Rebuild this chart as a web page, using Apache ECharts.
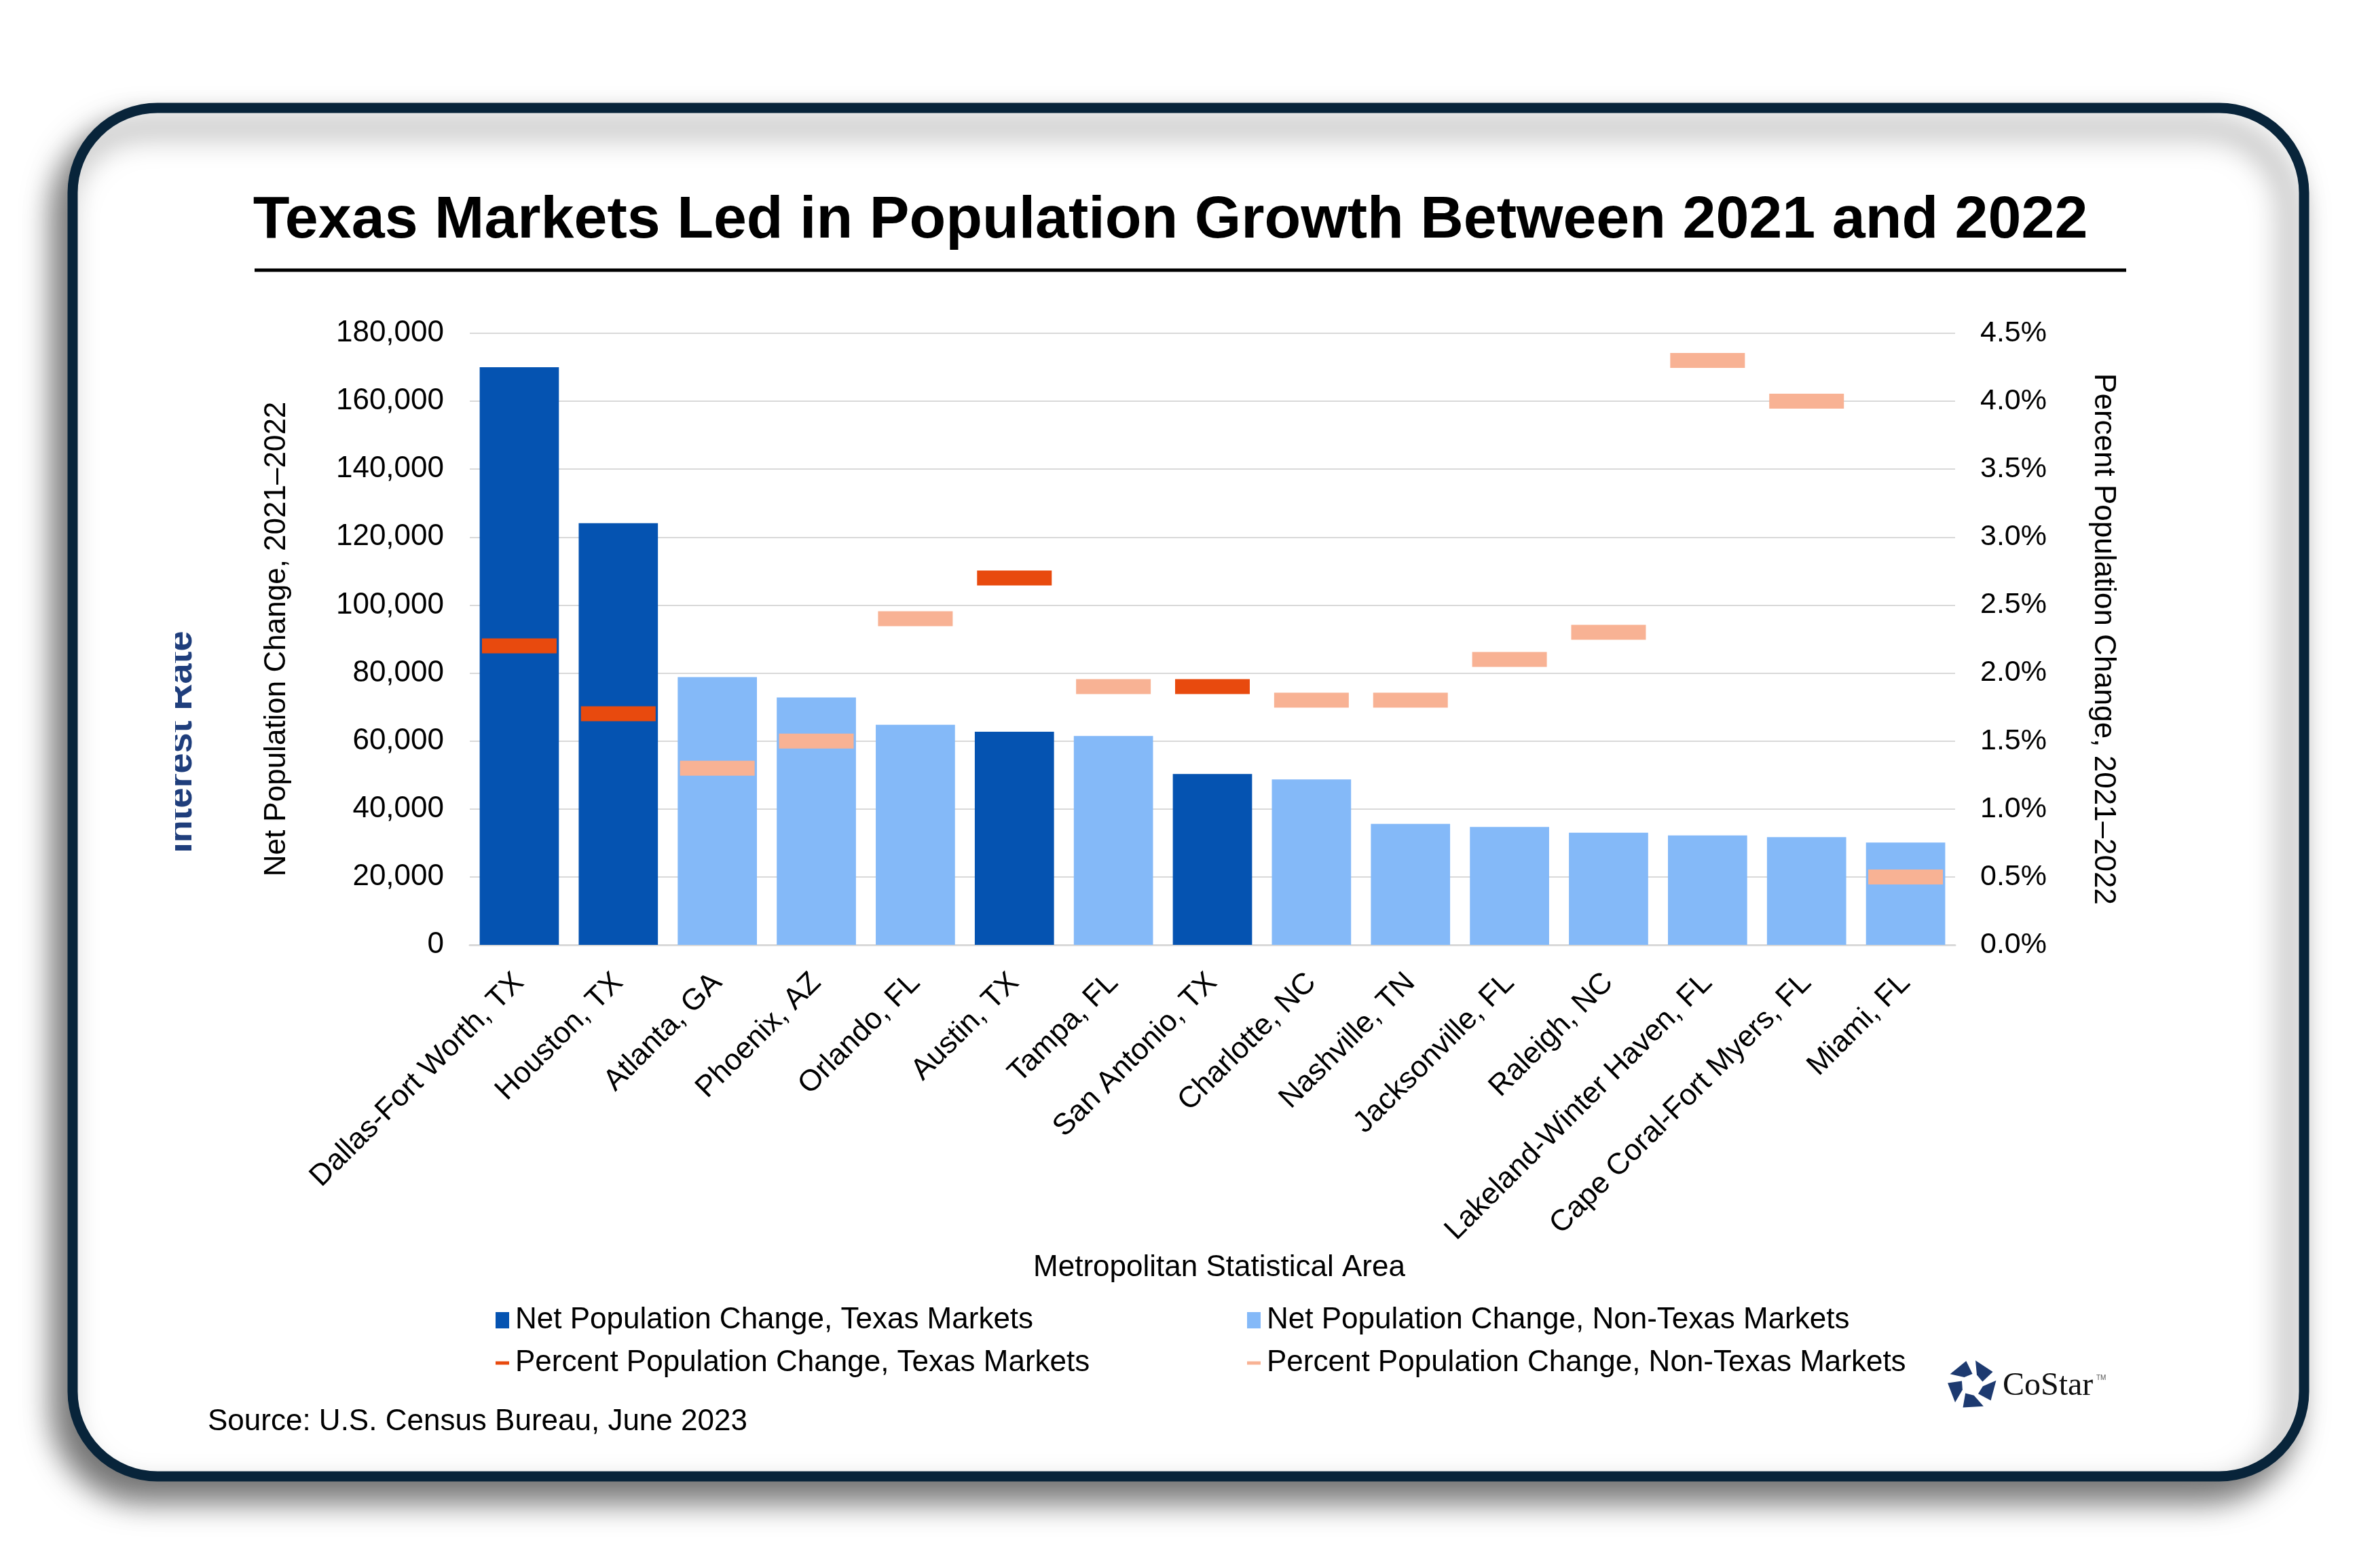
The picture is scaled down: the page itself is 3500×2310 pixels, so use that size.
<!DOCTYPE html>
<html>
<head>
<meta charset="utf-8">
<title>Texas Markets Led in Population Growth Between 2021 and 2022</title>
<script src="https://cdn.jsdelivr.net/npm/echarts@6/dist/echarts.min.js"></script>
<style>
  html, body { margin: 0; padding: 0; background: #ffffff; }
  #chart { width: 3500px; height: 2310px; }
</style>
</head>
<body>
<div id="chart"></div>
<script>
// Datos (cambio de población 2021–2022 por área metropolitana)
const categories = [
  "Dallas-Fort Worth, TX", "Houston, TX", "Atlanta, GA", "Phoenix, AZ", "Orlando, FL",
  "Austin, TX", "Tampa, FL", "San Antonio, TX", "Charlotte, NC", "Nashville, TN",
  "Jacksonville, FL", "Raleigh, NC", "Lakeland-Winter Haven, FL", "Cape Coral-Fort Myers, FL", "Miami, FL"
];
const netChange = [170000, 124100, 78800, 72800, 64800, 62750, 61500, 50300, 48700, 35600, 34700, 33000, 32200, 31700, 30100];
const pctChange = [2.2, 1.7, 1.3, 1.5, 2.4, 2.7, 1.9, 1.9, 1.8, 1.8, 2.1, 2.3, 4.3, 4.0, 0.5];
const isTexas = [true, true, false, false, false, true, false, true, false, false, false, false, false, false, false];

// Escalas de los ejes
const netMax = 180000, netStep = 20000;
const pctMax = 4.5, pctStep = 0.5;

const seriesNames = [
  "Net Population Change, Texas Markets",
  "Net Population Change, Non-Texas Markets",
  "Percent Population Change, Texas Markets",
  "Percent Population Change, Non-Texas Markets"
];

const FONT = '"Liberation Sans", Arial, sans-serif';
const colors = {
  texasBar: "#0553B1",
  otherBar: "#84B9F8",
  texasPct: "#E84A0E",
  otherPct: "#F8B294",
  grid: "#D9D9D9",
  frame: "#08243A"
};

// Separar los valores en Texas / no Texas (cada uno en su propia serie)
const pick = (arr, texas) => arr.map((v, i) => (isTexas[i] === texas ? v : "-"));

// Leyenda: una por elemento para poder colocar las dos columnas
function legendItem(name, left, top, w, h) {
  return {
    data: [{ name: name, icon: "rect" }],
    left: left, top: top,
    itemWidth: w, itemHeight: h,
    padding: 0,
    selectedMode: false,
    textStyle: { fontFamily: FONT, fontSize: 44, color: "#000", padding: [0, 0, 0, 4] }
  };
}

// Logo de CoStar (pentágono de cinco piezas)
function logoPieces(cx, cy, R, r) {
  const pts = (deg, rad) => [cx + rad * Math.cos(deg * Math.PI / 180), cy + rad * Math.sin(deg * Math.PI / 180)];
  const out = [];
  for (let k = 0; k < 5; k++) {
    const b = -90 + 72 * k;
    out.push({
      type: "polygon",
      shape: { points: [pts(b + 8, R), pts(b + 58, R), pts(b + 74, r), pts(b + 26, r)] },
      style: { fill: "#1D3A70" },
      silent: true
    });
  }
  return out;
}

const chart = echarts.init(document.getElementById("chart"));

const option = {
  backgroundColor: "#ffffff",
  animation: false,
  textStyle: { fontFamily: FONT },
  grid: { left: 692, right: 620, top: 491, bottom: 918, containLabel: false },
  legend: [
    legendItem(seriesNames[0], 730, 1923, 20, 24),
    legendItem(seriesNames[2], 730, 1986, 20, 5),
    legendItem(seriesNames[1], 1837, 1923, 20, 24),
    legendItem(seriesNames[3], 1837, 1986, 20, 5)
  ],
  xAxis: {
    type: "category",
    data: categories,
    axisLine: { lineStyle: { color: colors.grid, width: 3 } },
    axisTick: { show: false },
    axisLabel: {
      rotate: 45,
      interval: 0,
      margin: 49,
      fontFamily: FONT,
      fontSize: 44,
      color: "#000"
    }
  },
  yAxis: [
    {
      type: "value",
      min: 0, max: netMax, interval: netStep,
      name: "Net Population Change, 2021\u20132022",
      nameLocation: "middle",
      nameRotate: 90,
      nameGap: 262,
      nameTextStyle: { fontFamily: FONT, fontSize: 44, color: "#000" },
      axisLine: { show: false },
      axisTick: { show: false },
      axisLabel: {
        margin: 38,
        fontFamily: FONT, fontSize: 44, color: "#000",
        formatter: v => v.toLocaleString("en-US")
      },
      splitLine: { lineStyle: { color: colors.grid, width: 2 } }
    },
    {
      type: "value",
      min: 0, max: pctMax, interval: pctStep,
      name: "Percent Population Change, 2021\u20132022",
      nameLocation: "middle",
      nameRotate: -90,
      nameGap: 196,
      nameTextStyle: { fontFamily: FONT, fontSize: 44, color: "#000" },
      axisLine: { show: false },
      axisTick: { show: false },
      axisLabel: {
        margin: 37,
        fontFamily: FONT, fontSize: 43, color: "#000",
        formatter: v => v.toFixed(1) + "%"
      },
      splitLine: { show: false }
    }
  ],
  series: [
    {
      name: seriesNames[0],
      type: "bar",
      stack: "net",
      barWidth: "80%",
      itemStyle: { color: colors.texasBar },
      data: pick(netChange, true)
    },
    {
      name: seriesNames[1],
      type: "bar",
      stack: "net",
      barWidth: "80%",
      itemStyle: { color: colors.otherBar },
      data: pick(netChange, false)
    },
    {
      name: seriesNames[2],
      type: "scatter",
      yAxisIndex: 1,
      symbol: "rect",
      symbolSize: [110, 22],
      z: 5,
      itemStyle: { color: colors.texasPct, opacity: 1 },
      data: pick(pctChange, true)
    },
    {
      name: seriesNames[3],
      type: "scatter",
      yAxisIndex: 1,
      symbol: "rect",
      symbolSize: [110, 22],
      z: 5,
      itemStyle: { color: colors.otherPct, opacity: 1 },
      data: pick(pctChange, false)
    }
  ],
  graphic: [
    // Marco redondeado con sombra
    {
      type: "rect",
      z: -10,
      silent: true,
      shape: { x: 107, y: 159, width: 3287, height: 2016, r: 125 },
      style: {
        fill: "#ffffff",
        stroke: colors.frame,
        lineWidth: 15,
        shadowBlur: 45,
        shadowColor: "rgba(0,0,0,0.55)",
        shadowOffsetX: -20,
        shadowOffsetY: 28
      }
    },
    // Título
    {
      type: "text",
      silent: true,
      x: 1724, y: 326,
      style: {
        text: "Texas Markets Led in Population Growth Between 2021 and 2022",
        font: 'bold 88px "Liberation Sans", Arial, sans-serif',
        fill: "#000",
        align: "center",
        verticalAlign: "middle"
      }
    },
    {
      type: "line",
      silent: true,
      shape: { x1: 375, y1: 398, x2: 3132, y2: 398 },
      style: { stroke: "#000", lineWidth: 5 }
    },
    // Texto recortado que asoma a la izquierda
    {
      type: "text",
      silent: true,
      z: 1,
      x: 294, y: 1093,
      rotation: Math.PI / 2,
      style: {
        text: "Interest Rate",
        font: 'bold 54px "Liberation Sans", Arial, sans-serif',
        fill: "#1F3E7C",
        align: "center",
        verticalAlign: "bottom"
      }
    },
    {
      type: "rect",
      silent: true,
      z: 2,
      shape: { x: 170, y: 880, width: 88, height: 440 },
      style: { fill: "#ffffff" }
    },
    // Título del eje X
    {
      type: "text",
      silent: true,
      x: 1796, y: 1868,
      style: {
        text: "Metropolitan Statistical Area",
        font: '44px "Liberation Sans", Arial, sans-serif',
        fill: "#000",
        align: "center",
        verticalAlign: "middle"
      }
    },
    // Fuente
    {
      type: "text",
      silent: true,
      x: 306, y: 2095,
      style: {
        text: "Source: U.S. Census Bureau, June 2023",
        font: '44px "Liberation Sans", Arial, sans-serif',
        fill: "#000",
        align: "left",
        verticalAlign: "middle"
      }
    },
    // Logo
    ...logoPieces(2905, 2040, 36, 16),
    {
      type: "text",
      silent: true,
      x: 2950, y: 2042,
      style: {
        text: "CoStar",
        font: '48px "Liberation Serif", "DejaVu Serif", serif',
        fill: "#111",
        align: "left",
        verticalAlign: "middle"
      }
    },
    {
      type: "text",
      silent: true,
      x: 3088, y: 2030,
      style: {
        text: "TM",
        font: '10px "Liberation Sans", Arial, sans-serif',
        fill: "#555",
        align: "left",
        verticalAlign: "middle"
      }
    }
  ]
};

chart.setOption(option);
window.addEventListener("resize", () => chart.resize());
</script>
</body>
</html>
